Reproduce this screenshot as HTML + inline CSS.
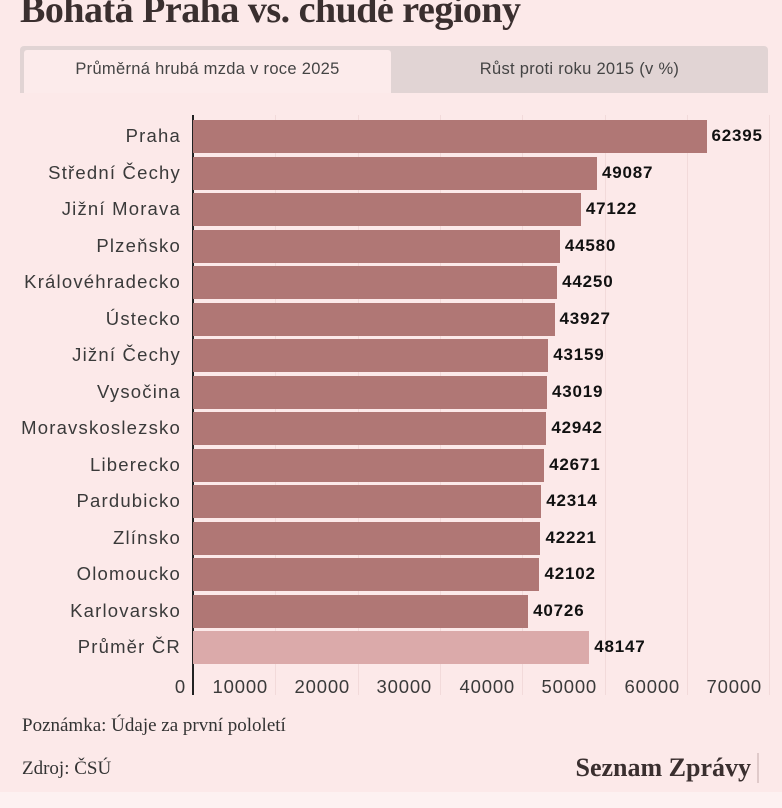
<!DOCTYPE html>
<html><head><meta charset="utf-8"><style>
*{margin:0;padding:0;box-sizing:border-box}
body{width:782px;height:808px;background:#fce9e9;position:relative;overflow:hidden;font-family:"Liberation Sans",sans-serif;color:#333}
.t{position:absolute;left:20px;top:-12px;font-family:"Liberation Serif",serif;font-weight:bold;font-size:38px;color:#3a2f2f;letter-spacing:-0.5px}
.tabs{position:absolute;left:20px;top:46px;width:748px;height:47px;background:#e1d4d4;border-radius:4px 4px 0 0}
.tab1{position:absolute;left:24px;top:50px;width:367px;height:43px;background:#fcebeb;border-radius:3px 3px 0 0;text-align:center;line-height:38px;font-size:16.5px;color:#444;letter-spacing:0.3px}
.tab2{position:absolute;left:391px;top:50px;width:377px;height:43px;text-align:center;line-height:38px;font-size:16.5px;color:#444;letter-spacing:0.3px}
.lab{position:absolute;right:601px;font-size:18.5px;color:#3a3a3a;white-space:nowrap;letter-spacing:1.2px}
.bar{position:absolute;left:193px;height:33px;background:#b07775}
.val{position:absolute;font-size:17px;font-weight:bold;color:#111;letter-spacing:0.8px}
.grid{position:absolute;top:115px;height:580px;width:1px;background:#f2dada}
.tick{position:absolute;top:676px;font-size:18.5px;color:#3a3a3a;text-align:right;width:80px;letter-spacing:0.8px}
.f{position:absolute;left:22px;font-family:"Liberation Serif",serif;font-size:19px;color:#333}
</style></head><body>
<div class="t">Bohatá Praha vs. chudé regiony</div>
<div class="tabs"></div>
<div class="tab1">Průměrná hrubá mzda v roce 2025</div>
<div class="tab2">Růst proti roku 2015 (v %)</div>
<div class="grid" style="left:275px"></div><div class="grid" style="left:358px"></div><div class="grid" style="left:440px"></div><div class="grid" style="left:522px"></div><div class="grid" style="left:605px"></div><div class="grid" style="left:687px"></div><div class="grid" style="left:769px"></div>
<div style="position:absolute;left:192px;top:115px;width:2px;height:580px;background:#222"></div>
<div id="c"></div>
<div class="tick" style="left:106px">0</div>
<div class="tick" style="left:188px">10000</div>
<div class="tick" style="left:270px">20000</div>
<div class="tick" style="left:352px">30000</div>
<div class="tick" style="left:435px">40000</div>
<div class="tick" style="left:517px">50000</div>
<div class="tick" style="left:600px">60000</div>
<div class="tick" style="left:682px">70000</div>
<div class="f" style="top:715px">Poznámka: Údaje za první pololetí</div>
<div class="f" style="top:758px">Zdroj: ČSÚ</div>
<div style="position:absolute;right:23px;top:753px;font-family:'Liberation Serif',serif;font-weight:bold;font-size:26px;color:#3a2f2f;border-right:2px solid #e0caca;padding-right:6px">Seznam Zprávy</div>
<div style="position:absolute;left:0;top:792px;width:782px;height:16px;background:#fdf1f1"></div>
<script>
var d=[["Praha",62395],["Střední Čechy",49087],["Jižní Morava",47122],["Plzeňsko",44580],["Královéhradecko",44250],["Ústecko",43927],["Jižní Čechy",43159],["Vysočina",43019],["Moravskoslezsko",42942],["Liberecko",42671],["Pardubicko",42314],["Zlínsko",42221],["Olomoucko",42102],["Karlovarsko",40726],["Průměr ČR",48147]];
var h="";d.forEach(function(r,i){var y=120+i*36.5,w=r[1]*0.00823;
h+='<div class="lab" style="top:'+(y+5)+'px">'+r[0]+'</div><div class="bar" style="top:'+y+'px;width:'+w+'px'+(i==14?';background:#dbaaaa':'')+'"></div><div class="val" style="top:'+(y+6)+'px;left:'+(193+w+5)+'px">'+r[1]+'</div>';});
document.getElementById("c").innerHTML=h;
</script>
</body></html>
